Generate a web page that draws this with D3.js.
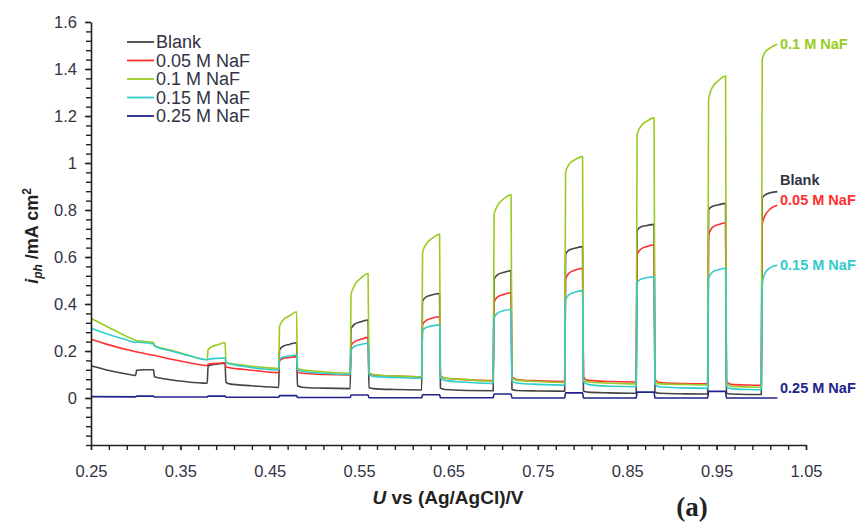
<!DOCTYPE html>
<html><head><meta charset="utf-8">
<script src="https://cdn.jsdelivr.net/npm/d3@7/dist/d3.min.js"></script>
<style>body{margin:0;background:#fff}svg{display:block}text{font-family:"Liberation Sans",Arial,sans-serif}</style>
</head><body>
<script>
// ---- data (U vs Ag/AgCl in V, photocurrent in mA cm^-2) ----
const seriesNames = ["Blank","0.05 M NaF","0.1 M NaF","0.15 M NaF","0.25 M NaF"];
const seriesColors = ["#444444","#ff3030","#99cc22","#33cccc","#23238c"];
const xTickLabels = [0.25,0.35,0.45,0.55,0.65,0.75,0.85,0.95,1.05];
const yTickLabels = [0,0.2,0.4,0.6,0.8,1,1.2,1.4,1.6];

const blank = [
[0.250,0.137],[0.270,0.117],[0.290,0.102],[0.300,0.096],
[0.301,0.118],[0.310,0.120],[0.320,0.120],
[0.321,0.090],[0.335,0.080],[0.355,0.070],[0.380,0.063],
[0.381,0.135],[0.385,0.141],[0.392,0.145],[0.400,0.148],
[0.401,0.066],[0.405,0.060],[0.430,0.052],[0.460,0.045],
[0.461,0.205],[0.465,0.220],[0.472,0.228],[0.480,0.235],
[0.481,0.052],[0.486,0.046],[0.510,0.042],[0.540,0.040],
[0.541,0.295],[0.545,0.314],[0.552,0.324],[0.560,0.332],
[0.561,0.045],[0.566,0.040],[0.590,0.036],[0.620,0.034],
[0.621,0.412],[0.625,0.430],[0.632,0.439],[0.640,0.445],
[0.641,0.042],[0.646,0.036],[0.670,0.032],[0.700,0.031],
[0.701,0.505],[0.705,0.525],[0.712,0.535],[0.720,0.542],
[0.721,0.036],[0.726,0.032],[0.750,0.030],[0.780,0.029],
[0.781,0.612],[0.785,0.630],[0.792,0.638],[0.800,0.644],
[0.801,0.030],[0.806,0.025],[0.830,0.022],[0.860,0.020],
[0.861,0.712],[0.865,0.728],[0.872,0.734],[0.880,0.739],
[0.881,0.024],[0.886,0.020],[0.910,0.018],[0.940,0.017],
[0.941,0.800],[0.945,0.815],[0.952,0.822],[0.960,0.828],
[0.961,0.020],[0.966,0.017],[0.985,0.015],[1.000,0.015],
[1.001,0.850],[1.005,0.866],[1.010,0.873],[1.018,0.878]
];
const naf005 = [
[0.250,0.250],[0.270,0.226],[0.290,0.206],[0.300,0.197],[0.320,0.182],[0.340,0.165],[0.360,0.150],[0.380,0.138],
[0.381,0.143],[0.390,0.147],[0.400,0.150],
[0.401,0.132],[0.420,0.122],[0.440,0.114],[0.460,0.108],
[0.461,0.160],[0.465,0.168],[0.472,0.172],[0.480,0.176],
[0.481,0.110],[0.486,0.105],[0.510,0.100],[0.540,0.098],
[0.541,0.222],[0.545,0.240],[0.552,0.250],[0.560,0.258],
[0.561,0.106],[0.566,0.098],[0.590,0.093],[0.620,0.090],
[0.621,0.312],[0.625,0.330],[0.632,0.340],[0.640,0.346],
[0.641,0.095],[0.646,0.085],[0.670,0.078],[0.700,0.074],
[0.701,0.408],[0.705,0.430],[0.712,0.441],[0.720,0.448],
[0.721,0.090],[0.726,0.079],[0.750,0.073],[0.780,0.070],
[0.781,0.505],[0.785,0.532],[0.792,0.545],[0.800,0.552],
[0.801,0.090],[0.806,0.075],[0.830,0.070],[0.860,0.068],
[0.861,0.610],[0.865,0.633],[0.872,0.645],[0.880,0.651],
[0.881,0.080],[0.886,0.066],[0.910,0.062],[0.940,0.060],
[0.941,0.690],[0.945,0.725],[0.952,0.738],[0.960,0.746],
[0.961,0.070],[0.966,0.058],[0.985,0.055],[1.000,0.054],
[1.001,0.740],[1.004,0.775],[1.010,0.805],[1.018,0.820]
];
const naf01 = [
[0.250,0.339],[0.270,0.300],[0.290,0.262],[0.300,0.245],
[0.301,0.243],[0.310,0.240],[0.320,0.236],
[0.321,0.224],[0.340,0.203],[0.360,0.180],[0.380,0.163],
[0.381,0.205],[0.385,0.218],[0.392,0.227],[0.400,0.235],
[0.401,0.152],[0.420,0.140],[0.440,0.131],[0.460,0.126],
[0.461,0.305],[0.465,0.332],[0.472,0.350],[0.480,0.367],
[0.481,0.128],[0.486,0.120],[0.510,0.112],[0.540,0.105],
[0.541,0.440],[0.545,0.480],[0.552,0.510],[0.560,0.530],
[0.561,0.108],[0.566,0.100],[0.590,0.093],[0.620,0.090],
[0.621,0.620],[0.625,0.655],[0.632,0.680],[0.640,0.697],
[0.641,0.095],[0.646,0.085],[0.670,0.078],[0.700,0.072],
[0.701,0.780],[0.705,0.820],[0.712,0.848],[0.720,0.865],
[0.721,0.085],[0.726,0.076],[0.750,0.070],[0.780,0.066],
[0.781,0.960],[0.785,0.995],[0.792,1.015],[0.800,1.027],
[0.801,0.080],[0.806,0.068],[0.830,0.063],[0.860,0.060],
[0.861,1.120],[0.865,1.155],[0.872,1.178],[0.880,1.192],
[0.881,0.072],[0.886,0.060],[0.910,0.058],[0.940,0.056],
[0.941,1.270],[0.945,1.320],[0.952,1.350],[0.960,1.370],
[0.961,0.062],[0.966,0.050],[0.985,0.047],[1.000,0.046],
[1.001,1.440],[1.004,1.470],[1.010,1.490],[1.018,1.505]
];
const naf015 = [
[0.250,0.297],[0.270,0.270],[0.290,0.247],[0.300,0.236],
[0.301,0.238],[0.310,0.235],[0.320,0.230],
[0.321,0.222],[0.340,0.200],[0.360,0.180],[0.380,0.163],
[0.381,0.165],[0.390,0.168],[0.400,0.170],
[0.401,0.150],[0.420,0.135],[0.440,0.125],[0.460,0.119],
[0.461,0.165],[0.465,0.174],[0.472,0.179],[0.480,0.183],
[0.481,0.120],[0.486,0.114],[0.510,0.105],[0.540,0.100],
[0.541,0.205],[0.545,0.220],[0.552,0.228],[0.560,0.233],
[0.561,0.100],[0.566,0.092],[0.590,0.087],[0.620,0.084],
[0.621,0.285],[0.625,0.300],[0.632,0.307],[0.640,0.311],
[0.641,0.085],[0.646,0.075],[0.670,0.067],[0.700,0.062],
[0.701,0.340],[0.705,0.362],[0.712,0.372],[0.720,0.377],
[0.721,0.072],[0.726,0.064],[0.750,0.058],[0.780,0.055],
[0.781,0.418],[0.785,0.440],[0.792,0.451],[0.800,0.457],
[0.801,0.070],[0.806,0.058],[0.830,0.050],[0.860,0.048],
[0.861,0.490],[0.865,0.505],[0.872,0.512],[0.880,0.516],
[0.881,0.060],[0.886,0.048],[0.910,0.043],[0.940,0.041],
[0.941,0.510],[0.945,0.535],[0.952,0.546],[0.960,0.552],
[0.961,0.050],[0.966,0.040],[0.985,0.036],[1.000,0.035],
[1.001,0.480],[1.004,0.530],[1.010,0.555],[1.018,0.565]
];
const naf025 = [
[0.250,0.006],[0.300,0.005],[0.301,0.008],[0.320,0.008],[0.321,0.004],[0.380,0.004],
[0.381,0.008],[0.400,0.008],[0.401,0.003],[0.460,0.003],[0.461,0.010],[0.480,0.010],
[0.481,0.002],[0.540,0.002],[0.541,0.013],[0.560,0.013],[0.561,0.001],[0.620,0.001],
[0.621,0.014],[0.640,0.014],[0.641,0.001],[0.700,0.001],[0.701,0.017],[0.720,0.017],
[0.721,0.000],[0.780,0.000],[0.781,0.022],[0.800,0.022],[0.801,0.000],[0.860,0.000],
[0.861,0.025],[0.880,0.025],[0.881,0.000],[0.940,0.000],[0.941,0.028],[0.960,0.028],
[0.961,0.000],[1.000,0.000],[1.018,0.000]
];
const seriesData = [blank, naf005, naf01, naf015, naf025];
// end-of-curve labels
const endLabels = ["0.1 M NaF","Blank","0.05 M NaF","0.15 M NaF","0.25 M NaF"];
const endLabelColors = ["#99cc22","#333344","#ff3030","#33cccc","#23238c"];
const endLabelValues = [1.505,0.93,0.845,0.565,0.045];

// ---- drawing ----
const W = 862, H = 523;
const svg = d3.select("body").append("svg").attr("width", W).attr("height", H);
const x = d3.scaleLinear().domain([0.25, 1.05]).range([91, 806]);
const y = d3.scaleLinear().domain([-0.2, 1.6]).range([445, 22]);

const line = d3.line().x(d => x(d[0])).y(d => y(d[1])).curve(d3.curveMonotoneX);
seriesData.forEach((s, i) => {
  svg.append("path").datum(s).attr("d", line).attr("fill", "none")
    .attr("stroke", seriesColors[i]).attr("stroke-width", 1.6).attr("stroke-linejoin", "round");
});

// axes
const axisColor = "#222";
const minorY = d3.range(0, 46).map(k => +(-0.2 + 0.04 * k).toFixed(2));
const minorX = d3.range(0, 41).map(k => +(0.25 + 0.02 * k).toFixed(2));

const gy = svg.append("g").attr("transform", "translate(91,0)");
gy.call(d3.axisLeft(y).tickValues(minorY).tickSize(5).tickSizeOuter(0).tickFormat(""));
const gy2 = svg.append("g").attr("transform", "translate(91,0)");
gy2.call(d3.axisLeft(y).tickValues(yTickLabels).tickSize(6).tickPadding(8).tickSizeOuter(0)
  .tickFormat(d => String(+d.toFixed(1))));
gy2.select(".domain").remove();

const gx = svg.append("g").attr("transform", "translate(0,445)");
gx.call(d3.axisBottom(x).tickValues(minorX).tickSize(5).tickSizeOuter(0).tickFormat(""));
const gx2 = svg.append("g").attr("transform", "translate(0,445)");
gx2.call(d3.axisBottom(x).tickValues(xTickLabels).tickSize(5).tickPadding(15).tickSizeOuter(0)
  .tickFormat(d3.format(".2f")));
gx2.select(".domain").remove();

svg.selectAll(".domain").attr("stroke", axisColor).attr("stroke-width", 1.6);
svg.selectAll(".tick line").attr("stroke", axisColor).attr("stroke-width", 1.4);
svg.selectAll(".tick text").attr("fill", "#333344").style("font-size", "16.5px")
  .style("font-family", "'Liberation Sans', Arial, sans-serif");

// axis titles
const yt = svg.append("text").attr("transform", "translate(38,236) rotate(-90)")
  .attr("text-anchor", "middle").attr("fill", "#222").style("font-size", "18px").style("font-weight", "bold");
yt.append("tspan").text("i").style("font-style", "italic");
yt.append("tspan").text("ph").attr("dy", 4).style("font-size", "12px").style("font-style", "italic");
yt.append("tspan").text(" /mA cm").attr("dy", -4);
yt.append("tspan").text("2").attr("dy", -7).style("font-size", "12px");

const xt = svg.append("text").attr("x", 448).attr("y", 504).attr("text-anchor", "middle")
  .attr("fill", "#222").style("font-size", "19px").style("font-weight", "bold");
xt.append("tspan").text("U").style("font-style", "italic");
xt.append("tspan").text(" vs (Ag/AgCl)/V");

svg.append("text").attr("x", 692).attr("y", 516).attr("text-anchor", "middle")
  .style("font-family", "'Liberation Serif','Times New Roman',serif").style("font-weight", "bold")
  .style("font-size", "27px").attr("fill", "#222").text("(a)");

// legend
const legY = [42, 60.5, 79, 97.5, 116];
seriesNames.forEach((n, i) => {
  svg.append("line").attr("x1", 127).attr("x2", 154).attr("y1", legY[i]).attr("y2", legY[i])
    .attr("stroke", seriesColors[i]).attr("stroke-width", 1.8);
  svg.append("text").attr("x", 156).attr("y", legY[i]).attr("dy", "0.35em")
    .attr("fill", "#333344").style("font-size", "18px").text(n);
});

// end labels
endLabels.forEach((n, i) => {
  svg.append("text").attr("x", 780).attr("y", y(endLabelValues[i])).attr("dy", "0.35em")
    .attr("fill", endLabelColors[i]).style("font-size", "14.5px").style("font-weight", "bold").text(n);
});
</script>
</body></html>
